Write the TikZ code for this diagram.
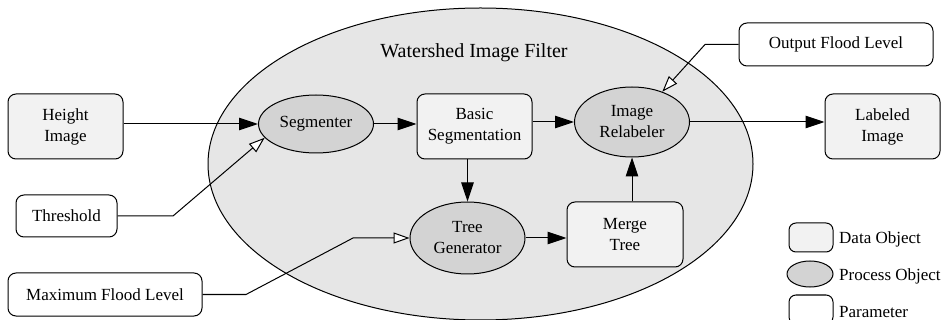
\documentclass[tikz,border=0pt]{standalone}
\usepackage{fontspec}
\setmainfont{Liberation Serif}
\usetikzlibrary{shapes.geometric,arrows.meta}
\definecolor{bigfill}{HTML}{E6E6E6}
\definecolor{procfill}{HTML}{D3D3D3}
\definecolor{datafill}{HTML}{F2F2F2}
\begin{document}
\begin{tikzpicture}[x=1pt,y=-1pt,
  font=\fontsize{17}{21}\selectfont,
  every node/.style={inner sep=0pt, align=center},
  dataobj/.style={draw, line width=1pt, rounded corners=8pt, fill=datafill, minimum width=115pt, minimum height=65pt},
  paramobj/.style={draw, line width=1pt, rounded corners=8pt, fill=white, minimum height=43pt},
  procobj/.style={draw, line width=1pt, ellipse, fill=procfill},
  flow/.style={line width=1pt, -{Triangle[length=19pt,width=12.5pt]}},
  pflow/.style={line width=1pt, -{Triangle[open,length=16pt,width=11pt,fill=white]}},
]
\useasboundingbox (0,0) rectangle (942,320);
\node[draw, line width=1pt, ellipse, fill=bigfill, minimum width=545pt, minimum height=312pt] (wif) at (480.5,164) {};
\node[font=\fontsize{20}{24}\selectfont] (title) at (474,53) {Watershed Image Filter};

\node[procobj, minimum width=115pt, minimum height=58pt] (seg) at (316,124) {Segmenter};
\node[dataobj] (bs) at (474.5,126.5) {Basic\\Segmentation};
\node[procobj, minimum width=115pt, minimum height=70pt] (rel) at (632,122) {Image\\Relabeler};
\node[procobj, minimum width=115pt, minimum height=72pt] (tg) at (467.5,238) {Tree\\Generator};
\node[dataobj, minimum width=116pt] (mt) at (625,234.5) {Merge\\Tree};

\node[dataobj] (hi) at (65.5,126.5) {Height\\Image};
\node[paramobj, minimum width=101pt, minimum height=42pt] (thr) at (66.5,216) {Threshold};
\node[paramobj, minimum width=194pt] (mfl) at (105,294.5) {Maximum Flood Level};
\node[paramobj, minimum width=194pt] (ofl) at (836,44.5) {Output Flood Level};
\node[dataobj] (li) at (882.5,126.5) {Labeled\\Image};

% legend
\node[dataobj, minimum width=44pt, minimum height=29pt, rounded corners=7pt] (ld) at (811,237.5) {};
\node[anchor=west] (ldt) at (839,239) {Data Object};
\node[procobj, minimum width=46pt, minimum height=26pt] (lp) at (810,274) {};
\node[anchor=west] (lpt) at (839,276) {Process Object};
\node[paramobj, minimum width=44pt, minimum height=29pt, rounded corners=7pt] (lpa) at (811,309.5) {};
\node[anchor=west] (lpat) at (839,312) {Parameter};

% flows
\draw[flow] (hi.east |- seg) -- (seg);
\draw[flow] (seg) -- (seg -| bs.west);
\draw[flow] (bs.east |- rel) -- (rel);
\draw[flow] (tg |- bs.south) -- (tg.north);
\draw[flow] (tg) -- (tg -| mt.west);
\draw[flow] (rel |- mt.north) -- (rel.south);
\draw[flow] (rel) -- (rel -| li.west);

\coordinate (t1) at (173,216);
\draw[pflow] (thr.east) -- (t1) -- (seg.195);
\coordinate (m1) at (246,294.5);
\coordinate (m2) at (353,238);
\draw[pflow] (mfl.east) -- (m1) -- (m2) -- (tg.west);
\coordinate (o1) at (705,44.5);
\draw[pflow] (ofl.west) -- (o1) -- (rel.45);
\end{tikzpicture}
\end{document}
